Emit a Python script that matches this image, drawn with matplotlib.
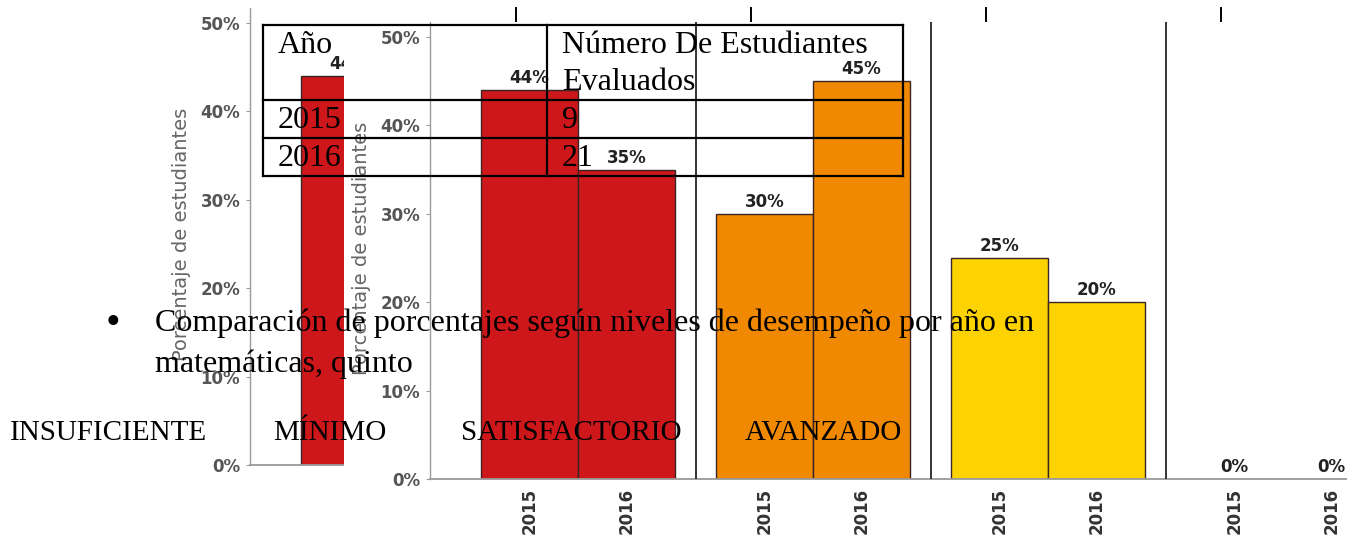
import numpy as np
import matplotlib
matplotlib.use("Agg")
import matplotlib.pyplot as plt
import matplotlib.transforms as mtransforms
from matplotlib.lines import Line2D
from matplotlib.patches import Rectangle

# ---------------- data ----------------
levels = ["INSUFICIENTE", "MÍNIMO", "SATISFACTORIO", "AVANZADO"]
years = ["2015", "2016"]
pct_2015 = [44, 30, 25, 0]
pct_2016 = [35, 45, 20, 0]
level_colors = ["#CD171B", "#F08800", "#FCD300", "#3A9A3A"]
y_ticks = [0, 10, 20, 30, 40, 50]

table_header = ["Año", "Número De Estudiantes\nEvaluados"]
table_years = ["2015", "2016"]
table_students = ["9", "21"]

caption_line1 = "Comparación de porcentajes según niveles de desempeño por año en"
caption_line2 = "matemáticas, quinto"
ylabel_text = "Porcentaje de estudiantes"

# ---------------- figure ----------------
W, H = 1347, 538
fig = plt.figure(figsize=(W / 100, H / 100), dpi=100)
fig.patch.set_facecolor("white")
px = mtransforms.Affine2D().scale(1 / W, -1 / H).translate(0, 1) + fig.transFigure


def rect(x0, y0, x1, y1):
    return [x0 / W, 1 - y1 / H, (x1 - x0) / W, (y1 - y0) / H]


def draw_chart(ax, front=True):
    n = len(levels)
    centers = np.arange(n)
    w = 0.413
    tick_pos, tick_lab = [], []
    for k in range(n):
        for j, vals in enumerate([pct_2015, pct_2016]):
            x = centers[k] + (j - 0.5) * w
            ax.bar(x, vals[k], width=w, color=level_colors[k],
                   edgecolor="#3a2424", linewidth=1.0, zorder=2)
            ax.annotate(f"{vals[k]}%", (x, vals[k]), xytext=(0, 2),
                        textcoords="offset points", ha="center", va="bottom",
                        fontsize=12, fontweight="bold", color="#222222",
                        zorder=4)
            tick_pos.append(x)
            tick_lab.append(years[j])
    for k in range(n - 1):
        ax.axvline(k + 0.5, color="#333333", lw=1.4, zorder=3)
    ax.set_xlim(-0.630, 3.272)
    ax.set_ylim(0, 51.7)
    ax.set_xticks(tick_pos)
    ax.set_xticklabels(tick_lab, rotation=90, fontweight="bold")
    ax.set_yticks(y_ticks)
    ax.set_yticklabels([f"{v}%" for v in y_ticks], fontweight="bold")
    for s in ["top", "right"]:
        ax.spines[s].set_visible(False)
    ax.spines["left"].set_color("#9a9a9a")
    ax.spines["bottom"].set_color("#9a9a9a")
    ax.spines["left"].set_linewidth(1.0)
    ax.spines["bottom"].set_linewidth(1.3)
    ax.tick_params(axis="x", length=0, pad=6.5, labelsize=12, labelcolor="#333333",
                   labelbottom=front)
    ax.tick_params(axis="y", length=3, width=0.8, color="#9a9a9a",
                   labelsize=12, labelcolor="#555555", pad=4)
    ax.text(-0.0752, 0.505, ylabel_text, transform=ax.transAxes, rotation=90,
            ha="center", va="center", fontsize=14, color="#666666")
    if front:
        blend = mtransforms.blended_transform_factory(ax.transData, ax.transAxes)
        for k in range(n):
            ax.plot([centers[k] - 0.265] * 2, [1.003, 1.031], transform=blend,
                    color="black", lw=1.4, clip_on=False)


# back (shifted) copy of the chart
ax_back = fig.add_axes(rect(250, 8, 1167, 465))
draw_chart(ax_back, front=False)
ax_back.set_zorder(1)

# white cover
cover = Rectangle((344 / W, 0), 1 - 344 / W, 1, transform=fig.transFigure,
                  facecolor="white", edgecolor="none", zorder=2)
fig.add_artist(cover)

# front chart
ax = fig.add_axes(rect(430, 22, 1347, 479))
draw_chart(ax, front=True)
ax.set_zorder(3)

# ---------------- document overlay ----------------
serif = "Liberation Serif"
# table
tx0, tx1, tcol = 263, 903, 547
row_lines = [25, 100, 138, 176]
for yv in row_lines:
    fig.add_artist(Line2D([tx0, tx1], [yv, yv], transform=px, color="black",
                          lw=1.6, zorder=10))
for xv in [tx0, tcol, tx1]:
    fig.add_artist(Line2D([xv, xv], [row_lines[0], row_lines[-1]], transform=px,
                          color="black", lw=1.6, zorder=10))
fig.text(278, 53, table_header[0], transform=px, fontsize=23, family=serif,
         va="baseline", zorder=11)
hdr_lines = table_header[1].split("\n")
fig.text(562, 53, hdr_lines[0], transform=px, fontsize=23, family=serif,
         va="baseline", zorder=11)
fig.text(562, 90, hdr_lines[1], transform=px, fontsize=23, family=serif,
         va="baseline", zorder=11)
for yb, yr, st in zip([128, 166], table_years, table_students):
    fig.text(278, yb, yr, transform=px, fontsize=23, family=serif,
             va="baseline", zorder=11)
    fig.text(562, yb, st, transform=px, fontsize=23, family=serif,
             va="baseline", zorder=11)

# bullet caption
fig.text(113, 334, "•", transform=px, fontsize=30, family=serif,
         ha="center", va="baseline", zorder=11)
fig.text(155, 331, caption_line1, transform=px, fontsize=23, family=serif,
         va="baseline", zorder=11)
fig.text(155, 372, caption_line2, transform=px, fontsize=23, family=serif,
         va="baseline", zorder=11)

# level labels row
for xl, lab in zip([10, 273, 461, 745], levels):
    fig.text(xl, 440, lab, transform=px, fontsize=21, family=serif,
             va="baseline", zorder=11)

fig.savefig("out.png", dpi=100)
